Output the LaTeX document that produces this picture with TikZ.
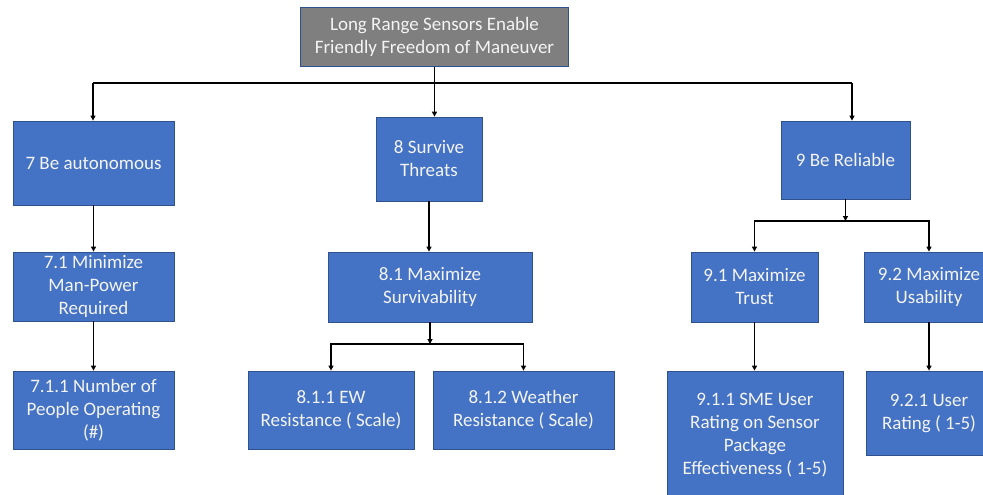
\documentclass[tikz,border=0pt]{standalone}
\usepackage{fontspec}
\setmainfont{Carlito}
\usetikzlibrary{arrows.meta}
\definecolor{boxblue}{HTML}{4472C4}
\definecolor{boxedge}{HTML}{2F528F}
\definecolor{boxgray}{HTML}{7F7F7F}
\definecolor{txt}{HTML}{F4F4F4}
\begin{document}
\begin{tikzpicture}[x=1pt,y=-1pt,
  box/.style={rectangle, draw=boxedge, line width=0.8pt, fill=boxblue, text=txt,
    inner sep=0pt, align=center, font=\fontsize{19}{23}\selectfont},
  graybox/.style={box, fill=boxgray},
  arr/.style={line width=1.2pt, black, -{Triangle[length=5pt,width=5pt]}},
  ln/.style={line width=1.2pt, black}]
\useasboundingbox (0,0) rectangle (983,495);
\begin{scope}
\clip (0,0) rectangle (983,495);
\node[graybox, minimum width=268pt, minimum height=59pt] (top) at (434.5,37) {Long Range Sensors Enable\\Friendly Freedom of Maneuver};

\node[box, minimum width=161pt, minimum height=84pt] (n7) at (93.5,163) {7 Be autonomous};
\node[box, minimum width=161pt, minimum height=69pt] (n71) at (93.5,286.5) {7.1 Minimize\\Man-Power\\Required};
\node[box, minimum width=161pt, minimum height=78pt] (n711) at (93.5,410) {7.1.1 Number of\\People Operating\\(\#)};

\node[box, minimum width=106pt, minimum height=84pt] (n8) at (429,159) {8 Survive\\Threats};
\node[box, minimum width=204pt, minimum height=70pt] (n81) at (430,287) {8.1 Maximize\\Survivability};
\node[box, minimum width=166pt, minimum height=78pt] (n811) at (331,410) {8.1.1 EW\\Resistance ( Scale)};
\node[box, minimum width=181pt, minimum height=78pt] (n812) at (523.5,410) {8.1.2 Weather\\Resistance ( Scale)};

\node[box, minimum width=129pt, minimum height=78pt] (n9) at (845.5,160) {9 Be Reliable};
\node[box, minimum width=127pt, minimum height=70pt] (n91) at (754.5,287) {9.1 Maximize\\Trust};
\node[box, minimum width=130pt, minimum height=70pt] (n92) at (929,287) {9.2 Maximize\\Usability};
\node[box, minimum width=176pt, minimum height=128pt] (n911) at (755,435) {9.1.1 SME User\\Rating on Sensor\\Package\\Effectiveness ( 1-5)};
\node[box, minimum width=126pt, minimum height=84pt] (n921) at (929,413) {9.2.1 User\\Rating ( 1-5)};

\coordinate (bl) at (93,83);
\coordinate (br) at (852,83);
\draw[ln] (bl) -- (br);
\draw[arr] (top.south) -- (top.south |- n8.north);
\draw[arr] (bl) -- (bl |- n7.north);
\draw[arr] (br) -- (br |- n9.north);

\draw[arr] (n7.south) -- (n71.north);
\draw[arr] (n71.south) -- (n711.north);

\draw[arr] (n8.south) -- (n8.south |- n81.north);
\coordinate (j8) at (430,344);
\draw[arr] (n81.south) -- (j8);
\draw[arr] (j8) -| (n811.north);
\draw[arr] (j8) -| (n812.north);

\coordinate (j9) at (845.5,221);
\draw[arr] (n9.south) -- (j9);
\draw[arr] (j9) -| (n91.north);
\draw[arr] (j9) -| (n92.north);
\draw[arr] (n91.south) -- (n91.south |- n911.north);
\draw[arr] (n92.south) -- (n921.north);
\end{scope}
\end{tikzpicture}
\end{document}
